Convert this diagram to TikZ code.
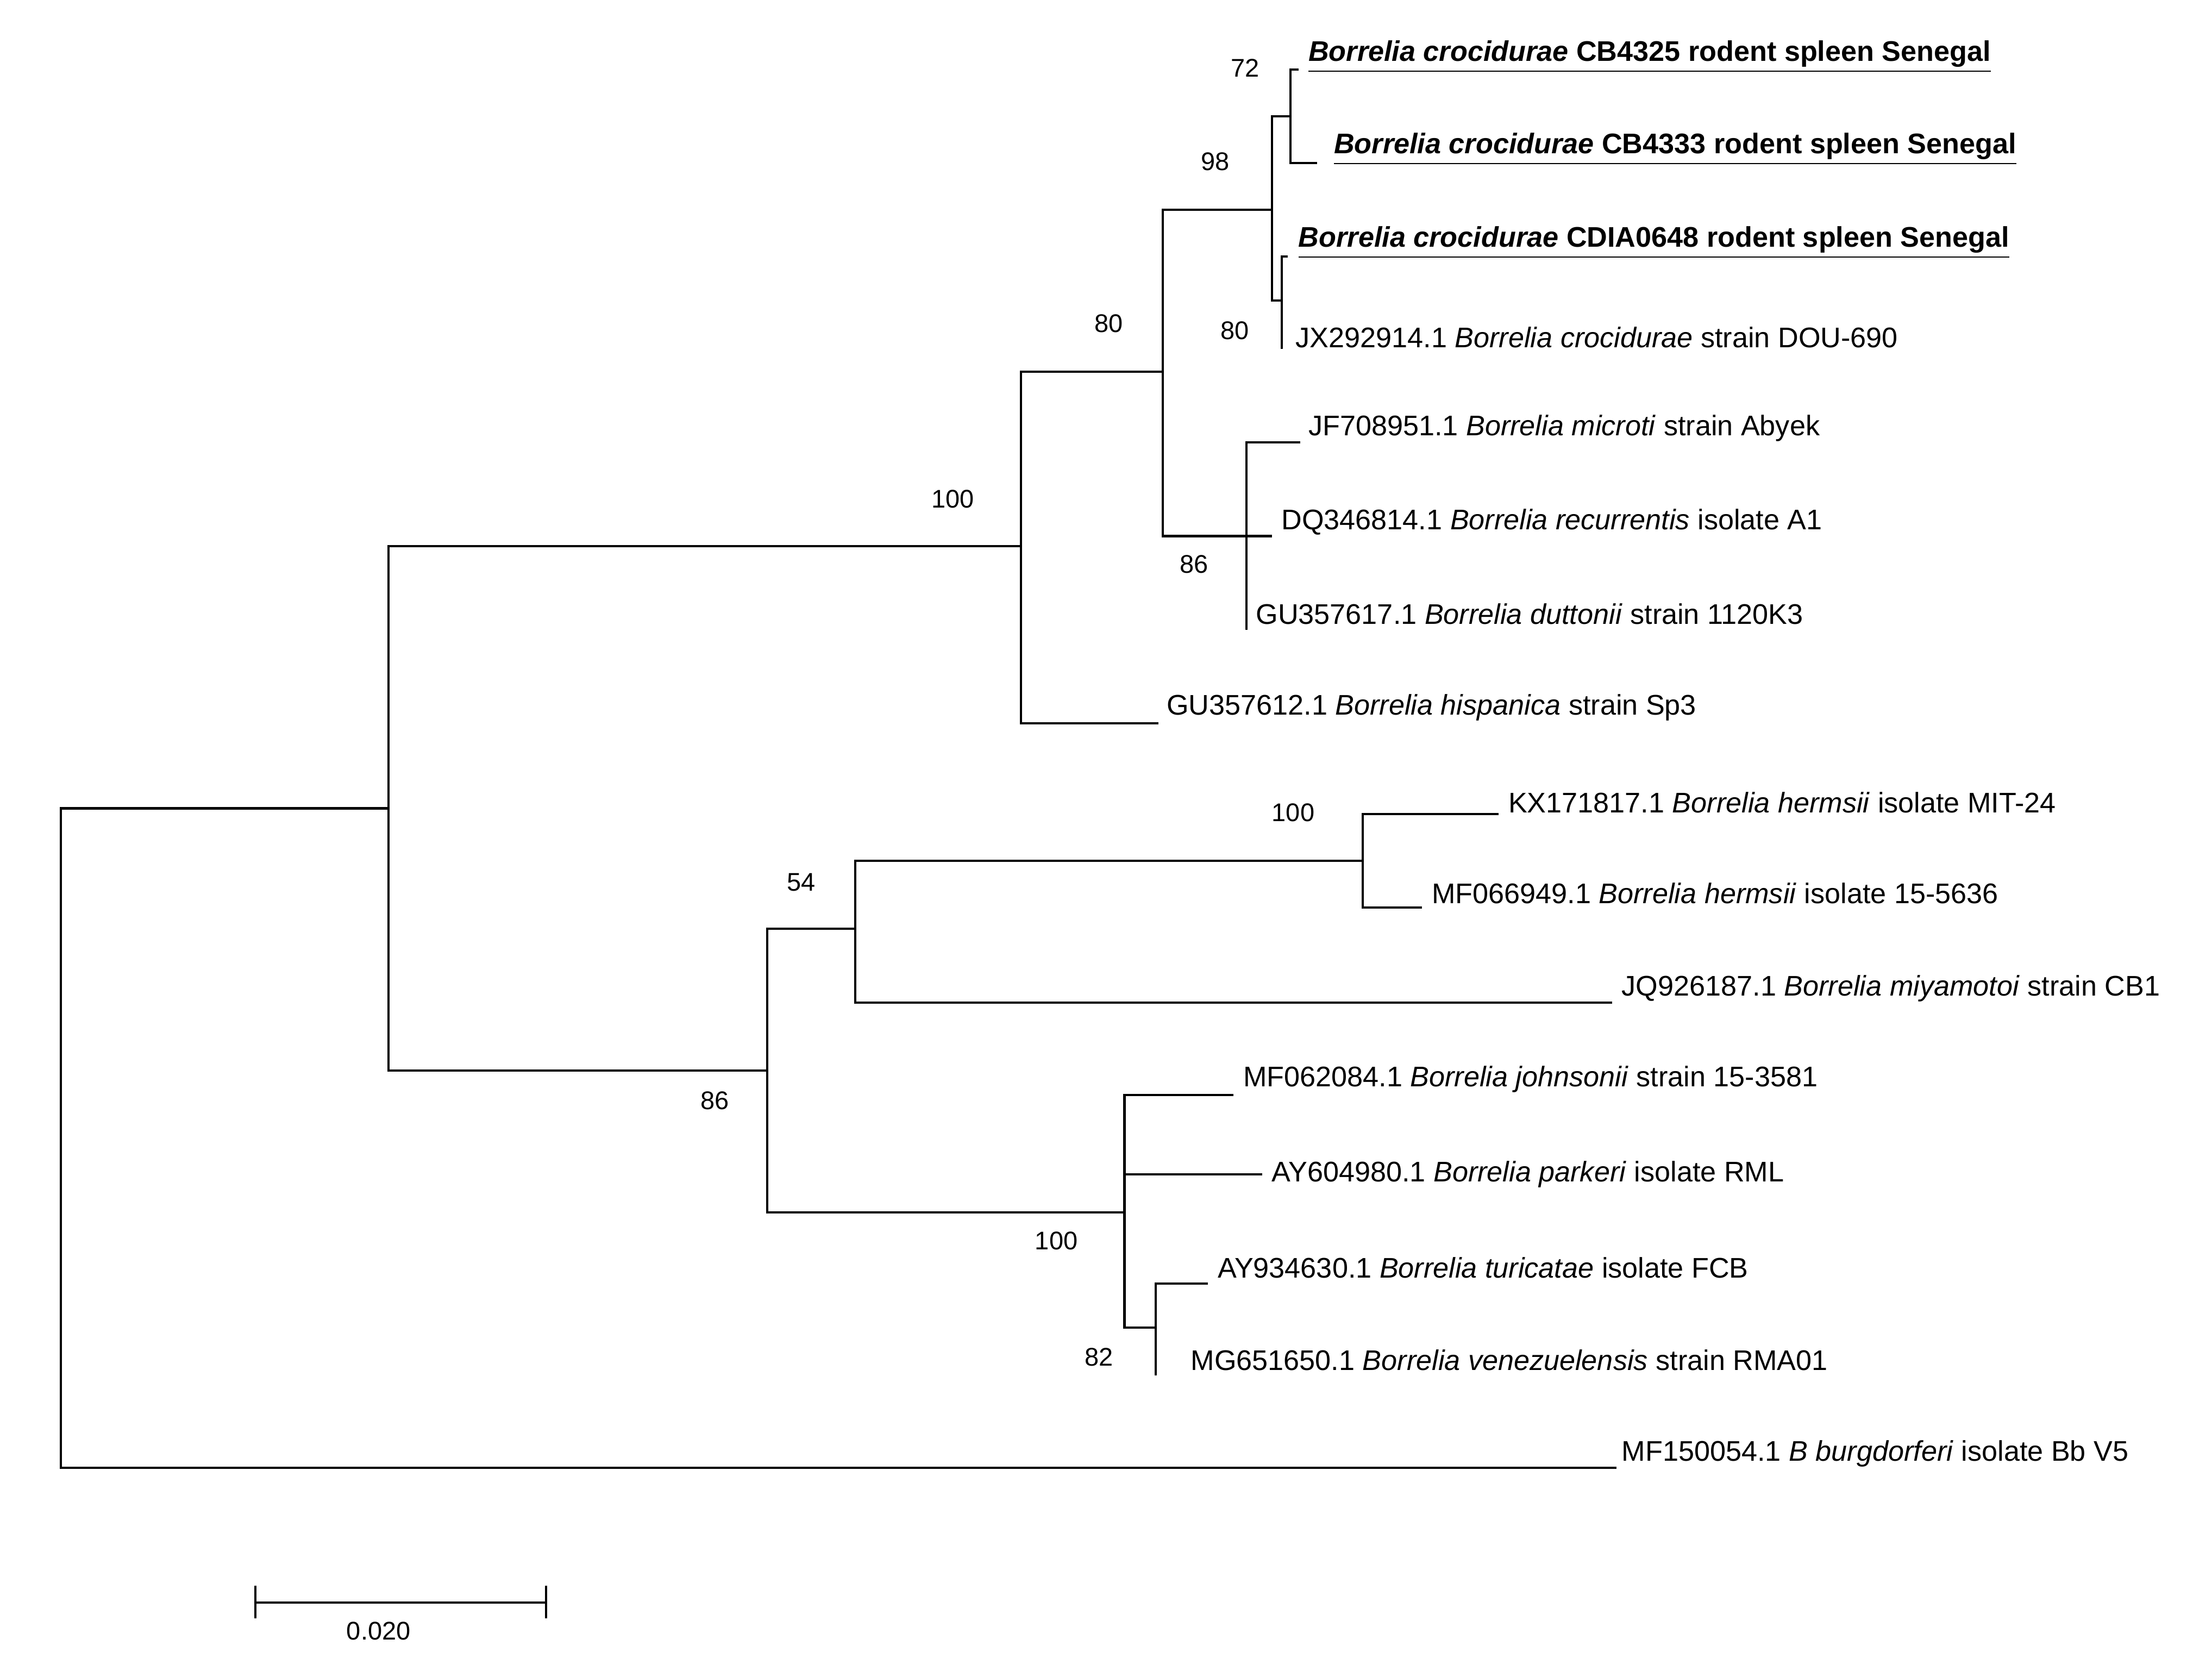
\documentclass[tikz,border=0pt]{standalone}
\usepackage{fontspec}
\setmainfont{Liberation Sans}
\begin{document}
\begin{tikzpicture}[x=0.5pt,y=-0.5pt,line width=0.8pt,
  leaf/.style={anchor=west,inner sep=0pt,font=\fontsize{10}{12}\selectfont},
  hl/.style={leaf,font=\fontsize{10}{12}\selectfont\bfseries},
  bs/.style={inner sep=0pt,font=\fontsize{9}{11}\selectfont}]
\useasboundingbox (0,0) rectangle (1560,1169);
% internal nodes
\coordinate (R) at (43,802);
\coordinate (A) at (274,570);
\coordinate (B) at (720,385);
\coordinate (C) at (820,262);
\coordinate (D) at (897,148);
\coordinate (E) at (910,82);
\coordinate (F) at (904,212);
\coordinate (G) at (879,378);
\coordinate (H) at (541,755);
\coordinate (I) at (603,655);
\coordinate (J) at (961,607);
\coordinate (K) at (793,855);
\coordinate (L) at (815,936);
% leaves
\node[hl] (l1) at (922,40) {\underline{\itshape Borrelia crocidurae\upshape\ CB4325 rodent spleen Senegal}};
\node[hl] (l2) at (940,105) {\underline{\itshape Borrelia crocidurae\upshape\ CB4333 rodent spleen Senegal}};
\node[hl] (l3) at (915,171) {\underline{\itshape Borrelia crocidurae\upshape\ CDIA0648 rodent spleen Senegal}};
\node[leaf] (l4) at (913,238) {JX292914.1 \textit{Borrelia crocidurae} strain DOU-690};
\node[leaf] (l5) at (922,302) {JF708951.1 \textit{Borrelia microti} strain Abyek};
\node[leaf] (l6) at (903,368) {DQ346814.1 \textit{Borrelia recurrentis} isolate A1};
\node[leaf] (l7) at (885,433) {GU357617.1 \textit{Borrelia duttonii} strain 1120K3};
\node[leaf] (l8) at (822,499) {GU357612.1 \textit{Borrelia hispanica} strain Sp3};
\node[leaf] (l9) at (1063,566) {KX171817.1 \textit{Borrelia hermsii} isolate MIT-24};
\node[leaf] (l10) at (1009,630) {MF066949.1 \textit{Borrelia hermsii} isolate 15-5636};
\node[leaf] (l11) at (1143,697) {JQ926187.1 \textit{Borrelia miyamotoi} strain CB1};
\node[leaf] (l12) at (876,761) {MF062084.1 \textit{Borrelia johnsonii} strain 15-3581};
\node[leaf] (l13) at (896,828) {AY604980.1 \textit{Borrelia parkeri} isolate RML};
\node[leaf] (l14) at (858,894) {AY934630.1 \textit{Borrelia turicatae} isolate FCB};
\node[leaf] (l15) at (839,959) {MG651650.1 \textit{Borrelia venezuelensis} strain RMA01};
\node[leaf] (l16) at (1143,1025) {MF150054.1 \textit{B burgdorferi} isolate Bb V5};
% branches
\draw (A |- 0,570) -- (R |- 0,570) -- (R |- 0,1035) -- (1140,1035);
\draw (B |- 0,385) -- (A |- 0,385) -- (A |- 0,755) -- (H |- 0,755);
\draw (C |- 0,262) -- (B |- 0,262) -- (B |- 0,510) -- (817,510);
\draw (D |- 0,148) -- (C |- 0,148) -- (C |- 0,378) -- (G |- 0,378);
\draw (E |- 0,82) -- (D |- 0,82) -- (D |- 0,212) -- (F |- 0,212);
\draw (916,49) -- (E |- 0,49) -- (E |- 0,115) -- (929,115);
\draw (908,181) -- (F |- 0,181) -- (F |- 0,246);
\draw (917,312) -- (G |- 0,312) -- (G |- 0,444);
\draw (G |- 0,378) -- (897,378);
\draw (I |- 0,655) -- (H |- 0,655) -- (H |- 0,855) -- (K |- 0,855);
\draw (J |- 0,607) -- (I |- 0,607) -- (I |- 0,707) -- (1137,707);
\draw (1057,574) -- (J |- 0,574) -- (J |- 0,640) -- (1003,640);
\draw (870,772) -- (K |- 0,772) -- (K |- 0,936) -- (L |- 0,936);
\draw (K |- 0,828) -- (890,828);
\draw (852,905) -- (L |- 0,905) -- (L |- 0,970);
% bootstrap
\node[bs] (b1) at (878,48) {72};
\node[bs] (b2) at (857,114) {98};
\node[bs] (b3) at (871,233) {80};
\node[bs] (b4) at (782,228) {80};
\node[bs] (b5) at (672,352) {100};
\node[bs] (b6) at (842,398) {86};
\node[bs] (b7) at (912,573) {100};
\node[bs] (b8) at (565,622) {54};
\node[bs] (b9) at (504,776) {86};
\node[bs] (b10) at (745,875) {100};
\node[bs] (b11) at (775,957) {82};
% scale bar
\coordinate (s1) at (180,1130);
\coordinate (s2) at (385,1130);
\draw (s1) -- (s2);
\draw (180,1118) -- (180,1141);
\draw (385,1118) -- (385,1141);
\node[bs] (sl) at (267,1150) {0.020};
\end{tikzpicture}
\end{document}
